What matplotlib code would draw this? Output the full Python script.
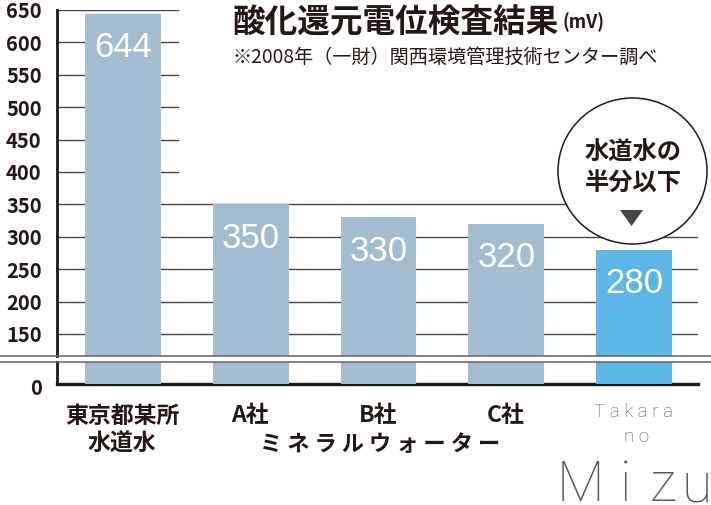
import matplotlib
matplotlib.use("Agg")
import matplotlib.pyplot as plt
from matplotlib.patches import Ellipse, Polygon
from matplotlib.lines import Line2D

# ---- data ----
categories = ["東京都某所\n水道水", "A社", "B社", "C社", "Takara no Mizu"]
values = [644, 350, 330, 320, 280]
upper_ticks = [150, 200, 250, 300, 350, 400, 450, 500, 550, 600, 650]
lower_ticks = [0]
title = "酸化還元電位検査結果"
unit = "(mV)"
subtitle = "※2008年（一財）関西環境管理技術センター調べ"
group_label = "ミネラルウォーター"
callout = ["水道水の", "半分以下"]

# ---- style ----
plt.rcParams['font.family'] = ['Noto Sans CJK JP', 'DejaVu Sans']
DARK = "#231815"
GRID = "#4d4646"
BAR = "#a2bcd2"
HIGHLIGHT = "#5cb6e8"
GREY = "#5a5454"
bar_colors = [BAR, BAR, BAR, BAR, HIGHLIGHT]

W, H = 711, 505
fig = plt.figure(figsize=(W / 100, H / 100), dpi=100)


def fx(px):
    return px / W


def fy(py):
    return 1 - py / H


x = list(range(len(values)))
xlim = (-0.516, 4.5)
bw = 0.594

ax = fig.add_axes([fx(57), fy(356), fx(698) - fx(57), fy(10) - fy(356)])
axl = fig.add_axes([fx(57), fy(384), fx(698) - fx(57), fy(362) - fy(384)])

for a in (ax, axl):
    a.bar(x, values, width=bw, color=bar_colors, zorder=3)
    a.set_xlim(*xlim)
    a.set_xticks([])
    for s in ("top", "right", "bottom"):
        a.spines[s].set_visible(False)
    a.spines["left"].set_color(DARK)
    a.spines["left"].set_linewidth(2)
    a.tick_params(axis="y", length=0, pad=11, labelsize=14.5, labelcolor=DARK)
    a.set_facecolor("none")

ax.set_ylim(116, 650)
axl.set_ylim(0, 34)
axl.spines["bottom"].set_visible(True)
axl.spines["bottom"].set_color(DARK)
axl.spines["bottom"].set_linewidth(2.4)

ax.set_yticks(upper_ticks)
ax.set_yticklabels([str(t) for t in upper_ticks], fontweight="bold")
axl.set_yticks(lower_ticks)
axl.set_yticklabels([])
axl.annotate("0", xy=(0, 0), xycoords=("axes fraction", "data"),
             xytext=(-11, -3), textcoords="offset points",
             ha="right", va="center", fontsize=14.5, fontweight="bold", color=DARK)

# gridlines (upper ones hidden behind the title area)
short = (178 - 57) / (698 - 57)
for t in upper_ticks:
    ax.axhline(t, xmin=0, xmax=short if t >= 400 else 1, color=GRID, lw=1.0, zorder=1)

# value labels
for xi, v in zip(x, values):
    ax.annotate(str(v), xy=(xi, v), xytext=(0, -24.5), textcoords="offset points",
                ha="center", va="center", color="white", fontsize=25,
                family="Liberation Sans", zorder=5)

# break lines
for py in (356, 362):
    fig.add_artist(Line2D([0, 1], [fy(py), fy(py)], transform=fig.transFigure,
                          color="#666060", lw=1.1))

# title
fig.text(fx(233), fy(23), title, fontsize=23.5, fontweight="bold", color=DARK,
         ha="left", va="center")
fig.text(fx(562), fy(22), unit, fontsize=13, fontweight="bold", color=DARK,
         ha="left", va="center")
fig.text(fx(232), fy(57), subtitle, fontsize=13.8, color=DARK,
         ha="left", va="center")

# x labels
xl = categories[0].split("\n")
fig.text(fx(122), fy(416), xl[0], fontsize=16.5, fontweight="bold", color=DARK,
         ha="center", va="center")
fig.text(fx(122), fy(444), xl[1], fontsize=16.5, fontweight="bold", color=DARK,
         ha="center", va="center")
for i in (1, 2, 3):
    fig.text(fx(250 + 128 * (i - 1)), fy(416), categories[i], fontsize=16.5,
             fontweight="bold", color=DARK, ha="center", va="center")
fig.text(fx(380), fy(444), " ".join(group_label), fontsize=16, fontweight="bold",
         color=DARK, ha="center", va="center")

# brand logo text
brand = categories[4].split(" ")
fig.text(fx(633), fy(412), " ".join(brand[0]), fontsize=13.5, color=GREY,
         family="Roboto", fontweight="light", ha="center", va="center")
fig.text(fx(637), fy(437), " ".join(brand[1]), fontsize=13.5, color=GREY,
         family="Roboto", fontweight="light", ha="center", va="center")
mizu_x = [580, 625, 663, 697]
for ch, px in zip(brand[2], mizu_x):
    fig.text(fx(px), fy(501), ch, fontsize=40, color=GREY, family="Roboto",
             fontweight="light", ha="center", va="baseline")

# callout
fig.add_artist(Ellipse((fx(632.5), fy(171)), width=149 / W, height=146 / H,
                       transform=fig.transFigure, facecolor="white",
                       edgecolor=DARK, lw=1.1, zorder=2))
fig.text(fx(633), fy(153), callout[0], fontsize=17.5, fontweight="bold", color=DARK,
         ha="center", va="center", zorder=3)
fig.text(fx(633), fy(184), callout[1], fontsize=17.5, fontweight="bold", color=DARK,
         ha="center", va="center", zorder=3)
fig.add_artist(Polygon([(fx(620), fy(210)), (fx(643), fy(210)), (fx(631.5), fy(226))],
                       closed=True, transform=fig.transFigure,
                       facecolor="#4a4545", edgecolor="none", zorder=3))

fig.savefig("out.png", dpi=100)
